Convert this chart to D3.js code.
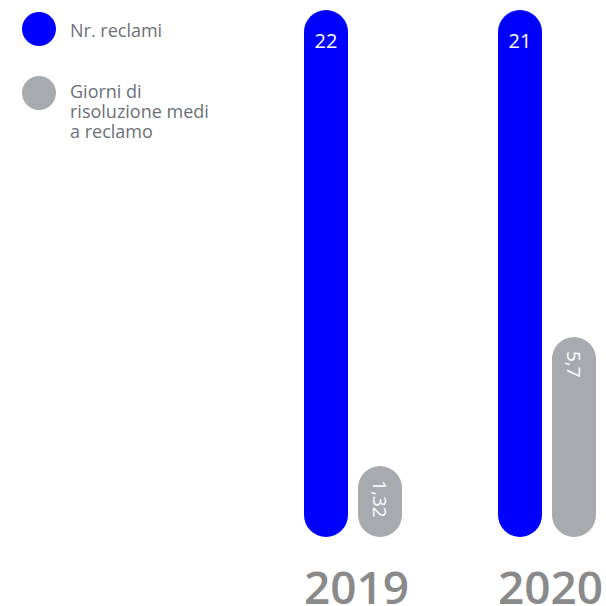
<!DOCTYPE html>
<html>
<head>
<meta charset="utf-8">
<script src="https://cdn.jsdelivr.net/npm/d3@7"></script>
<style>
  body { margin: 0; background: #fff; }
  svg { display: block; font-family: "Open Sans", sans-serif; }
</style>
</head>
<body>
<svg width="606" height="606"></svg>
<script>
var years = ["2019", "2020"];
var reclami = [22, 21];
var giorni = [1.32, 5.7];
var giorniLabels = ["1,32", "5,7"];
var seriesNames = ["Nr. reclami", ["Giorni di", "risoluzione medi", "a reclamo"]];
var colors = ["#0000ff", "#a7abaf"];

var svg = d3.select("svg");

var bottom = 537, barW = 44;

var x0 = d3.scaleBand().domain(years).range([304, 596]).paddingInner(0.495);
var x1 = d3.scaleBand().domain([0, 1]).range([0, x0.bandwidth()]).paddingInner(0.185);

// each series has its own scale
var yBlue = d3.scaleLinear().domain([0, 21]).range([bottom, 10]).clamp(true);
var yGray = d3.scaleLinear().domain([0, 5.7]).range([bottom - 32, 337]);

var g = svg.append("g");

years.forEach(function(yr, i) {
    var bx = x0(yr) + x1(0);
    var gx = x0(yr) + x1(1);
    var bt = yBlue(reclami[i]);
    var gt = yGray(giorni[i]);

    g.append("rect")
        .attr("x", bx).attr("y", bt)
        .attr("width", barW).attr("height", bottom - bt)
        .attr("rx", barW / 2)
        .attr("fill", colors[0]);

    g.append("text")
        .attr("x", bx + barW / 2).attr("y", bt + 38)
        .attr("text-anchor", "middle")
        .attr("fill", "#fff")
        .attr("font-size", 20)
        .text(reclami[i]);

    g.append("rect")
        .attr("x", gx).attr("y", gt)
        .attr("width", barW).attr("height", bottom - gt)
        .attr("rx", barW / 2)
        .attr("fill", colors[1]);

    g.append("text")
        .attr("transform", "translate(" + (gx + barW / 2 - 7) + "," + (gt + 14) + ") rotate(90)")
        .attr("text-anchor", "start")
        .attr("fill", "#fff")
        .attr("font-size", 19)
        .text(giorniLabels[i]);

    g.append("text")
        .attr("x", x0(yr) + x0.bandwidth() / 2 + 3.5).attr("y", 604)
        .attr("text-anchor", "middle")
        .attr("fill", "#8a8a8a")
        .attr("font-size", 46)
        .attr("font-weight", 600)
        .text(yr);
});

// legend
var legend = svg.append("g");
var legY = [29, 93];
seriesNames.forEach(function(name, i) {
    legend.append("circle")
        .attr("cx", 39).attr("cy", legY[i]).attr("r", 17)
        .attr("fill", colors[i]);
    var lines = Array.isArray(name) ? name : [name];
    var t = legend.append("text")
        .attr("fill", "#6b7178")
        .attr("font-size", 18);
    lines.forEach(function(l, j) {
        t.append("tspan")
            .attr("x", 70)
            .attr("y", legY[i] + 8 - (i === 1 ? 3 : 0) + j * 20)
            .text(l);
    });
});
</script>
</body>
</html>
